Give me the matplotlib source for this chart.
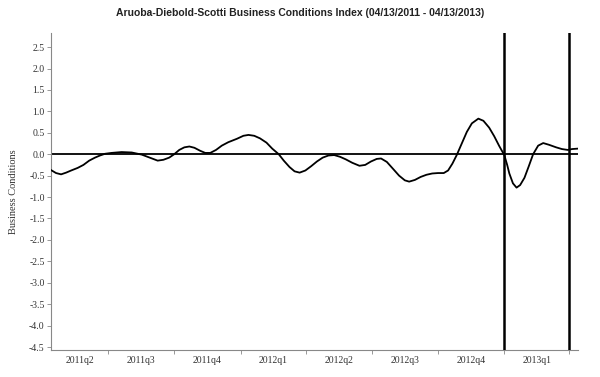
import matplotlib
matplotlib.use("Agg")
import matplotlib.pyplot as plt
import numpy as np
import pandas as pd

title = "Aruoba-Diebold-Scotti Business Conditions Index (04/13/2011 - 04/13/2013)"
ylabel = "Business Conditions"

dates = ["2011-04-13", "2011-04-20", "2011-04-27", "2011-05-04", "2011-05-11", "2011-05-20",
         "2011-05-28", "2011-06-05", "2011-06-13", "2011-06-20", "2011-06-27", "2011-07-06",
         "2011-07-20", "2011-08-03", "2011-08-17", "2011-08-28", "2011-09-08", "2011-09-16",
         "2011-09-24", "2011-10-01", "2011-10-08", "2011-10-15", "2011-10-22", "2011-10-29",
         "2011-11-06", "2011-11-13", "2011-11-20", "2011-11-28", "2011-12-06", "2011-12-15",
         "2011-12-27", "2012-01-05", "2012-01-12", "2012-01-20", "2012-01-28", "2012-02-06",
         "2012-02-14", "2012-02-23", "2012-03-01", "2012-03-09", "2012-03-16", "2012-03-23",
         "2012-03-31", "2012-04-08", "2012-04-16", "2012-04-24", "2012-05-02", "2012-05-10",
         "2012-05-18", "2012-05-26", "2012-06-04", "2012-06-14", "2012-06-22", "2012-06-30",
         "2012-07-08", "2012-07-14", "2012-07-22", "2012-07-30", "2012-08-08", "2012-08-16",
         "2012-08-22", "2012-08-30", "2012-09-07", "2012-09-15", "2012-09-23", "2012-10-01",
         "2012-10-09", "2012-10-15", "2012-10-21", "2012-10-27", "2012-11-03", "2012-11-10",
         "2012-11-17", "2012-11-26", "2012-12-03", "2012-12-11", "2012-12-18", "2012-12-25",
         "2013-01-01", "2013-01-05", "2013-01-08", "2013-01-13", "2013-01-18", "2013-01-23",
         "2013-01-29", "2013-02-04", "2013-02-10", "2013-02-17", "2013-02-24", "2013-03-04",
         "2013-03-14", "2013-03-22", "2013-03-30", "2013-04-05", "2013-04-13"]
values = [-0.37, -0.44, -0.47, -0.43, -0.38, -0.32,
          -0.25, -0.15, -0.08, -0.03, 0.01, 0.03,
          0.05, 0.04, -0.01, -0.08, -0.15, -0.13,
          -0.08, 0.00, 0.10, 0.16, 0.18, 0.15,
          0.08, 0.03, 0.03, 0.10, 0.20, 0.28,
          0.36, 0.43, 0.45, 0.43, 0.37, 0.27,
          0.13, 0.00, -0.15, -0.30, -0.40, -0.43,
          -0.38, -0.28, -0.17, -0.08, -0.03, -0.02,
          -0.06, -0.12, -0.20, -0.27, -0.25, -0.17,
          -0.11, -0.10, -0.18, -0.33, -0.50, -0.61,
          -0.64, -0.60, -0.53, -0.48, -0.45, -0.44,
          -0.44, -0.38, -0.22, -0.02, 0.25, 0.52,
          0.72, 0.83, 0.78, 0.62, 0.42, 0.19,
          -0.02, -0.25, -0.45, -0.68, -0.78, -0.72,
          -0.55, -0.28, 0.00, 0.20, 0.26, 0.22,
          0.16, 0.12, 0.10, 0.12, 0.13]

quarter_labels = ["2011q2", "2011q3", "2011q4", "2012q1", "2012q2", "2012q3", "2012q4", "2013q1"]
quarter_starts = ["2011-04-01", "2011-07-01", "2011-10-01", "2012-01-01", "2012-04-01",
                  "2012-07-01", "2012-10-01", "2013-01-01", "2013-04-01"]
vlines = ["2013-01-01", "2013-04-01"]
x_range = ["2011-04-13", "2013-04-13"]
yticks = [-4.5, -4.0, -3.5, -3.0, -2.5, -2.0, -1.5, -1.0, -0.5, 0.0, 0.5, 1.0, 1.5, 2.0, 2.5]

serif = ["Liberation Serif", "DejaVu Serif"]

fig = plt.figure(figsize=(6.0, 3.77), dpi=100)
ax = fig.add_axes([0.085, 0.0716, 0.878, 0.841])

x = pd.to_datetime(dates)
x0, x1 = pd.to_datetime(x_range)
ax.plot(x, values, color="black", lw=1.3, zorder=3, solid_joinstyle="round", antialiased=True)
ax.axhline(0, color="black", lw=1.3, zorder=2)
for d in vlines:
    ax.axvline(pd.to_datetime(d), color="black", lw=1.8, zorder=4)

ax.set_xlim(x0, x1)
ax.set_ylim(-4.57, 2.83)

ax.set_yticks(yticks)
ax.set_yticklabels([f"{v:.1f}" for v in yticks], fontfamily=serif, fontsize=7, color="#333333")
ax.tick_params(axis="y", length=3, width=0.6, color="#888888", pad=1.5)

qs = pd.to_datetime(quarter_starts)
major = [q for q in qs if x0 <= q <= x1]
ax.set_xticks(major)
ax.set_xticklabels([""] * len(major))
ax.tick_params(axis="x", which="major", length=3, width=0.6, color="#888888")
centers = []
for a, b in zip(qs[:-1], qs[1:]):
    lo, hi = max(a, x0), min(b, x1)
    centers.append(lo + (hi - lo) / 2)
ax.set_xticks(centers, minor=True)
ax.set_xticklabels(quarter_labels, minor=True, fontfamily=serif, fontsize=7, color="#333333")
ax.tick_params(axis="x", which="minor", length=0, pad=4)

for s in ["top", "right"]:
    ax.spines[s].set_visible(False)
for s in ["left", "bottom"]:
    ax.spines[s].set_color("#888888")
    ax.spines[s].set_linewidth(0.8)

ax.set_ylabel(ylabel, fontfamily=serif, fontsize=7.5, color="#333333", labelpad=8)
fig.text(0.5, 0.965, title, ha="center", va="center", fontfamily=["Liberation Sans", "DejaVu Sans"],
         fontweight="bold", fontsize=7.5, color="#222222")

fig.savefig("out.png", dpi=100)
